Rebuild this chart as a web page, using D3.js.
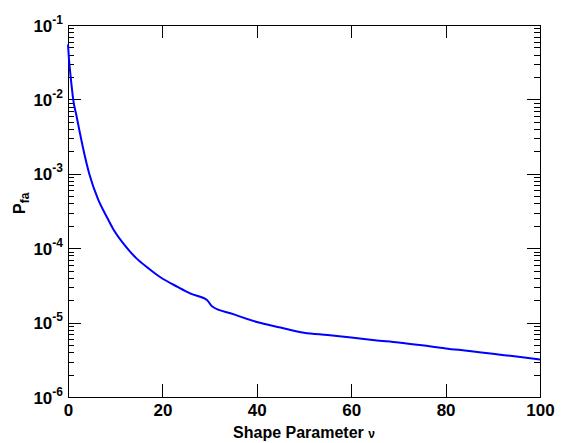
<!DOCTYPE html>
<html>
<head>
<meta charset="utf-8">
<script src="https://cdn.jsdelivr.net/npm/d3@7"></script>
<style>
  body { margin: 0; background: #fff; }
  text { font-family: "Liberation Sans", Arial, sans-serif; font-weight: bold; }
</style>
</head>
<body>
<script>
const width = 562;
const height = 443;
const margin = {left: 68, right: 22, top: 25, bottom: 46};

// shape parameter v and false alarm probability
const shapeParam = [0, 0.2, 0.5, 0.8, 1.1, 1.8, 2.5, 3.2, 4.5, 6.4, 8, 9.6, 12, 14.5, 17, 19.5, 23.3, 26, 29.5, 30.5, 35, 40, 45, 50, 55, 60, 65, 70, 75, 80, 85, 90, 95, 100];
const pfa = [5.5e-2, 3.5e-2, 2.2e-2, 1.45e-2, 1.0e-2, 6.0e-3, 3.6e-3, 2.2e-3, 1.0e-3, 4.5e-4, 2.8e-4, 1.8e-4, 1.1e-4, 7.3e-5, 5.4e-5, 4.1e-5, 3.0e-5, 2.45e-5, 2.0e-5, 1.66e-5, 1.3e-5, 1.02e-5, 8.6e-6, 7.3e-6, 6.8e-6, 6.3e-6, 5.8e-6, 5.4e-6, 4.95e-6, 4.5e-6, 4.15e-6, 3.8e-6, 3.5e-6, 3.2e-6];

const xTicks = [0, 20, 40, 60, 80, 100];
const yTicks = [1e-6, 1e-5, 1e-4, 1e-3, 1e-2, 1e-1];
const yTickExp = ["-6", "-5", "-4", "-3", "-2", "-1"];

const svg = d3.select('body')
              .append('svg')
              .attr('width', width)
              .attr('height', height);

const xScale = d3.scaleLinear()
                 .domain([0, 100])
                 .range([margin.left, width - margin.right]);

const yScale = d3.scaleLog()
                 .domain([1e-6, 1e-1])
                 .range([height - margin.bottom, margin.top]);

const x0 = margin.left, x1 = width - margin.right;
const y0 = height - margin.bottom, y1 = margin.top;

// minor ticks 2..9 in every decade
let minorTicks = [];
for (let e = -6; e <= -2; e++) {
    for (let m = 2; m <= 9; m++) minorTicks.push(m * Math.pow(10, e));
}

// bottom + top x axes
svg.append('g')
   .attr('transform', `translate(0, ${y0})`)
   .call(d3.axisBottom(xScale).tickValues(xTicks).tickSizeInner(-13).tickSizeOuter(0).tickPadding(7).tickFormat(d3.format('d')))
   .call(g => g.select('.domain').remove())
   .call(g => g.selectAll('text').attr('font-size', 17).attr('fill', '#000'));

svg.append('g')
   .attr('transform', `translate(0, ${y1})`)
   .call(d3.axisTop(xScale).tickValues(xTicks).tickSizeInner(-13).tickSizeOuter(0).tickFormat(''))
   .call(g => g.select('.domain').remove());

// left + right y axes, major and minor
svg.append('g')
   .attr('transform', `translate(${x0}, 0)`)
   .call(d3.axisLeft(yScale).tickValues(yTicks).tickSizeInner(-13).tickSizeOuter(0).tickFormat(''))
   .call(g => g.select('.domain').remove());
svg.append('g')
   .attr('transform', `translate(${x0}, 0)`)
   .call(d3.axisLeft(yScale).tickValues(minorTicks).tickSizeInner(-6).tickSizeOuter(0).tickFormat(''))
   .call(g => g.select('.domain').remove());
svg.append('g')
   .attr('transform', `translate(${x1}, 0)`)
   .call(d3.axisRight(yScale).tickValues(yTicks).tickSizeInner(-13).tickSizeOuter(0).tickFormat(''))
   .call(g => g.select('.domain').remove());
svg.append('g')
   .attr('transform', `translate(${x1}, 0)`)
   .call(d3.axisRight(yScale).tickValues(minorTicks).tickSizeInner(-6).tickSizeOuter(0).tickFormat(''))
   .call(g => g.select('.domain').remove());

svg.selectAll('.tick line').attr('stroke', '#000').attr('shape-rendering', 'crispEdges');

// y tick labels 10^n
yTicks.forEach((t, i) => {
    const lbl = svg.append('text')
                   .attr('x', 63)
                   .attr('y', yScale(t) + 6.5)
                   .attr('text-anchor', 'end')
                   .attr('fill', '#000');
    lbl.append('tspan').attr('font-size', 17).text('10');
    lbl.append('tspan').attr('font-size', 12).attr('dy', -8).text(yTickExp[i]);
});

// box
svg.append('rect')
   .attr('x', x0 + 0.5)
   .attr('y', y1 + 0.5)
   .attr('width', x1 - x0)
   .attr('height', y0 - y1)
   .attr('fill', 'none')
   .attr('stroke', '#000')
   .attr('stroke-width', 1);

// the curve
const line = d3.line()
               .x((d, i) => xScale(shapeParam[i]))
               .y(d => yScale(d))
               .curve(d3.curveMonotoneX);

svg.append('path')
   .datum(pfa)
   .attr('d', line)
   .attr('fill', 'none')
   .attr('stroke', '#0000ff')
   .attr('stroke-width', 2);

// axis labels
const xl = svg.append('text')
              .attr('x', (x0 + x1) / 2)
              .attr('y', 437.5)
              .attr('text-anchor', 'middle')
              .attr('font-size', 16)
              .attr('fill', '#000');
xl.append('tspan').text('Shape Parameter ');
xl.append('tspan').attr('font-size', 12).text('ν');

const yl = svg.append('text')
              .attr('transform', `translate(25, 214) rotate(-90)`)
              .attr('text-anchor', 'start')
              .attr('font-size', 16)
              .attr('fill', '#000');
yl.append('tspan').text('P');
yl.append('tspan').attr('font-size', 12).attr('dy', 4).text('fa');
</script>
</body>
</html>
